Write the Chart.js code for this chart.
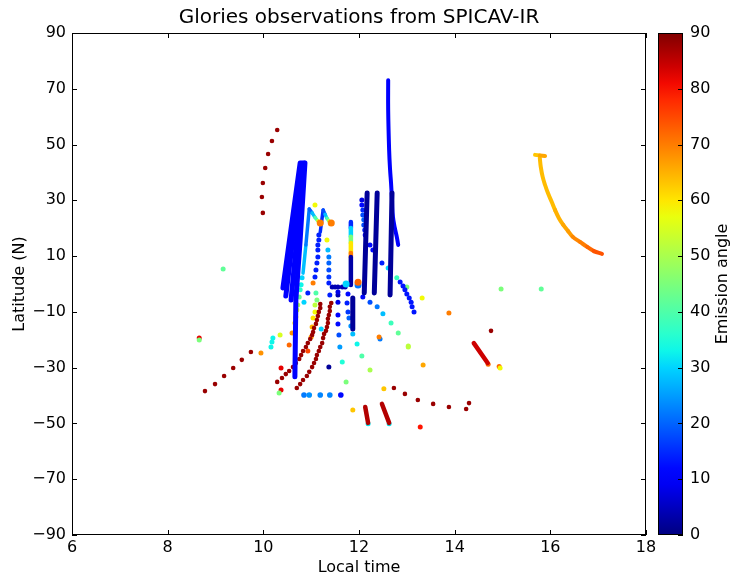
<!DOCTYPE html>
<html>
<head>
<meta charset="utf-8">
<script src="https://cdn.jsdelivr.net/npm/chart.js@4"></script>
<style>
  html, body { margin: 0; padding: 0; background: #fff; }
  #wrap { position: relative; width: 731px; height: 578px; }
  #main { position: absolute; left: 0; top: 0; }
  #cbar { position: absolute; left: 640px; top: 0; }
</style>
</head>
<body>
<div id="wrap">
  <canvas id="main" width="731" height="578"></canvas>
  <canvas id="cbar" width="91" height="578"></canvas>
</div>
<script>
// points are [local time, latitude, emission angle]

// continuous tracks
const fanTrack1 = [[10.41, -1.4, 11], [10.77, 43.4, 11]];
const fanTrack2 = [[10.47, -4.3, 11], [10.81, 43.4, 11]];
const fanTrack3 = [[10.58, -5.7, 11], [10.85, 43.4, 11]];
const fanTrack4 = [[10.66, -33.3, 11], [10.68, -5.7, 11], [10.77, 15.8, 11], [10.87, 43.4, 11]];
const peak1Track = [[10.83, 3.9, 28], [10.89, 14.0, 22], [10.96, 26.9, 20], [11.02, 25.5, 28], [11.08, 23.9, 40], [11.14, 22.6, 55], [11.19, 21.9, 68]];
const peak2Track = [[11.19, 18.6, 15], [11.25, 26.5, 18], [11.29, 25.0, 28], [11.33, 23.6, 40], [11.37, 22.6, 55], [11.42, 21.9, 68]];
const gradTrack = [[11.83, 22.2, 15], [11.83, 20.1, 30], [11.83, 16.9, 45], [11.83, 14.7, 60], [11.83, 11.1, 70], [11.83, 9.7, 3], [11.83, -0.4, 3]];
const navyTrack1 = [[12.17, 32.6, 2], [12.11, -3.2, 2]];
const navyTrack2 = [[12.38, 32.6, 2], [12.32, -3.2, 2]];
const navyTrack3 = [[12.69, 32.6, 2], [12.65, -3.9, 2]];
const navyTrack4 = [[11.87, -5.0, 2], [11.87, -16.1, 2]];
const blueTrack = [[12.61, 73.1, 11], [12.61, 62.4, 11], [12.63, 48.0, 11], [12.65, 40.9, 11], [12.67, 36.2, 11], [12.69, 30.1, 11], [12.71, 24.0, 11], [12.75, 20.0, 11], [12.79, 16.9, 11], [12.82, 14.0, 11]];
const redTrack1 = [[14.40, -21.2, 84], [14.69, -28.3, 84]];
const redTrack2 = [[12.13, -44.1, 86], [12.19, -49.8, 86]];
const redTrack3 = [[12.48, -43.0, 86], [12.63, -49.8, 86]];
const orangeTop = [[15.68, 46.3, 63], [15.78, 46.1, 66], [15.89, 45.9, 72]];
const orangeCurve = [[15.78, 45.2, 64], [15.80, 42.0, 64], [15.84, 38.4, 64], [15.89, 35.5, 64], [15.95, 32.6, 64], [16.03, 29.4, 64],
  [16.10, 26.5, 65], [16.18, 23.6, 65], [16.27, 21.2, 66], [16.37, 19.0, 67], [16.47, 16.9, 69], [16.62, 15.1, 70],
  [16.77, 13.3, 72], [16.91, 11.8, 74], [17.08, 10.8, 75]];

// dotted tracks
const redArcTop = [[10.29, 55.2, 88], [10.18, 51.3, 88], [10.10, 46.6, 88], [10.04, 41.6, 88], [9.99, 36.2, 88], [9.97, 31.2, 88], [9.99, 25.5, 88]];
const redArcLeft = [[8.78, -38.4, 88], [8.99, -35.9, 88], [9.18, -33.0, 88], [9.37, -30.1, 88], [9.55, -27.2, 88], [9.74, -24.4, 88]];
const redArc1 = [[10.29, -35.1, 88], [10.39, -33.7, 88], [10.47, -32.3, 88], [10.54, -31.2, 88], [10.62, -29.8, 88], [10.68, -28.3, 88], [10.75, -26.9, 88], [10.79, -25.5, 88], [10.83, -24.0, 88], [10.89, -22.6, 88], [10.93, -21.2, 88], [10.98, -19.7, 88], [11.02, -18.3, 88], [11.04, -17.2, 88], [11.06, -15.8, 88], [11.10, -14.3, 88], [11.12, -12.9, 88], [11.14, -11.5, 88], [11.16, -10.0, 88], [11.19, -8.6, 88], [11.19, -7.2, 88]];
const redArc2 = [[10.70, -37.3, 88], [10.77, -35.9, 88], [10.83, -34.4, 88], [10.91, -33.0, 88], [10.96, -31.5, 88], [11.02, -29.8, 88], [11.06, -28.3, 88], [11.10, -26.9, 88], [11.12, -25.5, 88], [11.16, -24.0, 88], [11.19, -22.6, 88], [11.23, -21.2, 88], [11.25, -19.4, 88], [11.27, -17.9, 88], [11.31, -16.8, 88], [11.33, -15.4, 88], [11.35, -14.0, 88], [11.35, -12.5, 88], [11.37, -11.1, 88], [11.39, -9.7, 88], [11.39, -8.2, 88], [11.42, -6.8, 88]];
const redArcRight = [[12.73, -37.3, 88], [12.96, -39.4, 88], [13.23, -41.6, 88], [13.55, -43.0, 88], [13.88, -44.1, 88], [14.24, -44.8, 88], [14.30, -42.7, 88], [14.76, -16.8, 88]];
const blueDotsRight = [[12.86, 0.7, 13], [12.92, -0.7, 13], [12.96, -2.1, 13], [13.00, -3.6, 13], [13.05, -5.0, 13], [13.09, -6.5, 13], [13.11, -8.2, 13], [13.15, -10.0, 13]];
const cyanDiag = [[12.61, 5.7, 30], [12.79, 2.2, 38], [13.00, -1.1, 45], [13.32, -5.0, 58], [13.88, -10.4, 70]];
const dotsB = [[12.08, -4.7, 12], [12.23, -6.5, 18], [12.38, -8.2, 22], [12.50, -10.7, 28], [12.67, -14.0, 38], [12.82, -17.6, 42], [13.03, -22.6, 52], [13.34, -29.0, 66]];
const dotsC = [[11.77, -3.6, 12], [11.75, -6.8, 14], [11.77, -10.0, 16], [11.79, -12.2, 20], [11.83, -15.1, 24], [11.87, -17.9, 28], [11.96, -21.5, 33], [12.06, -25.8, 40], [12.23, -30.8, 50]];
const dotsD = [[11.56, -2.9, 8], [11.56, -6.5, 8], [11.56, -11.1, 10], [11.56, -14.3, 12], [11.58, -18.3, 18], [11.60, -22.6, 25], [11.65, -28.0, 35], [11.73, -35.1, 45]];
const rowDots = [[11.44, -1.1, 4], [11.50, -1.1, 4], [11.56, -1.1, 4], [11.65, -1.1, 4], [11.71, -1.1, 4], [11.56, -3.9, 4]];
const peak1Dots = [[10.81, 2.2, 30], [10.79, -0.3, 33], [10.77, -2.1, 36], [10.75, -4.7, 42], [10.72, -7.5, 50], [10.70, -9.3, 55], [10.68, -11.8, 58], [10.66, -14.0, 62], [10.60, -17.6, 68], [10.54, -21.9, 72]];
const peak2Dots = [[11.16, 17.6, 14], [11.16, 15.8, 14], [11.14, 14.0, 14], [11.14, 12.2, 14], [11.14, 9.7, 14], [11.12, 7.5, 14], [11.10, 5.0, 14], [11.08, 2.5, 14]];
const colourDots = [[11.04, 0.4, 70], [11.10, -3.2, 40], [11.12, -5.7, 45], [11.08, -7.5, 52], [11.08, -10.0, 58], [11.04, -12.2, 60], [11.02, -15.4, 65], [11.00, -19.0, 68], [10.93, -24.0, 75]];
const col329 = [[11.33, 15.8, 58], [11.35, 12.2, 28], [11.37, 9.7, 22], [11.37, 7.5, 20], [11.37, 5.0, 18], [11.37, 2.5, 16], [11.37, 0.4, 14], [11.39, -3.9, 14]];
const col362 = [[12.06, 30.1, 8], [12.06, 28.3, 12], [12.08, 26.5, 15], [12.08, 24.7, 18], [12.10, 23.0, 20], [12.10, 21.2, 18], [12.12, 19.4, 15], [12.13, 17.6, 12], [12.23, 14.0, 12], [12.29, 12.2, 12], [12.48, 7.5, 14]];
const row40 = [[10.85, -39.8, 22], [10.96, -39.8, 24], [11.19, -39.8, 23], [11.39, -39.8, 23], [11.62, -39.8, 12]];
const isolated = [[9.16, 5.4, 42], [8.66, -19.4, 82], [8.66, -20.1, 45], [9.95, -24.7, 68], [10.35, -18.3, 55],
  [10.20, -19.4, 33], [10.18, -20.8, 33], [10.16, -22.6, 33], [10.37, -30.1, 82], [10.37, -38.0, 82], [10.33, -39.1, 45],
  [14.97, -1.8, 45], [15.81, -1.8, 42], [14.70, -28.8, 72], [14.93, -29.6, 72], [14.95, -30.1, 58], [13.28, -51.3, 80],
  [12.52, -37.6, 63], [11.87, -45.2, 63], [11.37, -29.8, 2], [11.08, 28.3, 58], [12.44, -19.7, 22], [12.42, -19.0, 70],
  [11.21, -16.1, 30], [12.19, -50.1, 32], [12.63, -50.1, 32], [10.93, -3.2, 14], [10.85, -6.5, 30], [13.03, -22.2, 52]];
const bigMarks = [[11.19, 21.9, 70], [11.42, 21.9, 70], [11.73, 0.0, 30], [11.98, -0.4, 22], [11.98, 0.6, 72]];

const xTicks = [6, 8, 10, 12, 14, 16, 18];
const yTicks = [-90, -70, -50, -30, -10, 10, 30, 50, 70, 90];
const cbTicks = [0, 10, 20, 30, 40, 50, 60, 70, 80, 90];

const FONT = "'DejaVu Sans', sans-serif";

// matplotlib "jet" colour map, 0..90 degrees
function jet(a) {
  const v = Math.min(1, Math.max(0, a / 90));
  const interp = pts => {
    for (let i = 1; i < pts.length; i++) {
      if (v <= pts[i][0]) {
        const [x0, y0] = pts[i - 1], [x1, y1] = pts[i];
        return y0 + (y1 - y0) * (v - x0) / (x1 - x0);
      }
    }
    return pts[pts.length - 1][1];
  };
  const r = interp([[0, 0], [0.35, 0], [0.66, 1], [0.89, 1], [1, 0.5]]);
  const g = interp([[0, 0], [0.125, 0], [0.375, 1], [0.64, 1], [0.91, 0], [1, 0]]);
  const b = interp([[0, 0.5], [0.11, 1], [0.34, 1], [0.65, 0], [1, 0]]);
  return `rgb(${Math.round(r * 255)},${Math.round(g * 255)},${Math.round(b * 255)})`;
}

function trackSet(pts, width, tension = 0) {
  return {
    data: pts.map(p => ({ x: p[0], y: p[1] })),
    showLine: true,
    borderWidth: width,
    borderColor: jet(pts[0][2]),
    segment: { borderColor: c => jet(pts[c.p0DataIndex][2]) },
    borderCapStyle: "round",
    borderJoinStyle: "round",
    pointRadius: 0,
    tension: tension,
    fill: false,
    order: 1,
  };
}

function dotSet(pts, radius) {
  return {
    data: pts.map(p => ({ x: p[0], y: p[1] })),
    showLine: false,
    pointRadius: radius,
    pointBorderWidth: 0,
    pointBackgroundColor: pts.map(p => jet(p[2])),
    order: 2,
  };
}

const datasets = [
  dotSet(redArcTop, 2.3), dotSet(redArcLeft, 2.3), dotSet(redArc1, 2.3), dotSet(redArc2, 2.3), dotSet(redArcRight, 2.3),
  dotSet(blueDotsRight, 2.5), dotSet(cyanDiag, 2.5), dotSet(dotsB, 2.5), dotSet(dotsC, 2.5), dotSet(dotsD, 2.5),
  dotSet(rowDots, 2.5), dotSet(peak1Dots, 2.5), dotSet(peak2Dots, 2.5), dotSet(colourDots, 2.5), dotSet(col329, 2.5),
  dotSet(col362, 2.5), dotSet(row40, 2.8), dotSet(isolated, 2.5),
  trackSet(fanTrack1, 5), trackSet(fanTrack2, 5), trackSet(fanTrack3, 5), trackSet(fanTrack4, 5),
  trackSet(peak1Track, 3.5), trackSet(peak2Track, 3.5), trackSet(gradTrack, 4.5),
  trackSet(navyTrack1, 5), trackSet(navyTrack2, 5), trackSet(navyTrack3, 5), trackSet(navyTrack4, 5),
  trackSet(blueTrack, 4, 0.4), trackSet(redTrack1, 4.5), trackSet(redTrack2, 4.5), trackSet(redTrack3, 4.5),
  trackSet(orangeTop, 4), trackSet(orangeCurve, 4, 0.4),
];
const big = dotSet(bigMarks, 3.5);
big.order = 0;
datasets.push(big);

// frame, inward ticks and title in the matplotlib way
const axesDecor = {
  id: "axesDecor",
  afterDraw(chart) {
    const { ctx, chartArea: a, scales } = chart;
    ctx.save();
    ctx.strokeStyle = "#000";
    ctx.lineWidth = 1;
    ctx.strokeRect(Math.round(a.left) + 0.5, Math.round(a.top) + 0.5, Math.round(a.width) - 1, Math.round(a.height) - 1);
    ctx.beginPath();
    xTicks.forEach(v => {
      const px = Math.round(scales.x.getPixelForValue(v)) + 0.5;
      ctx.moveTo(px, a.bottom); ctx.lineTo(px, a.bottom - 5);
      ctx.moveTo(px, a.top); ctx.lineTo(px, a.top + 5);
    });
    yTicks.forEach(v => {
      const py = Math.round(scales.y.getPixelForValue(v)) + 0.5;
      ctx.moveTo(a.left, py); ctx.lineTo(a.left + 5, py);
      ctx.moveTo(a.right, py); ctx.lineTo(a.right - 5, py);
    });
    ctx.stroke();
    ctx.fillStyle = "#000";
    ctx.font = "20px " + FONT;
    ctx.textAlign = "center";
    ctx.textBaseline = "middle";
    ctx.fillText("Glories observations from SPICAV-IR", (a.left + a.right) / 2, a.top - 15);
    ctx.restore();
  },
};

new Chart(document.getElementById("main").getContext("2d"), {
  type: "line",
  data: { datasets: datasets },
  options: {
    responsive: false,
    animation: false,
    layout: { padding: { left: 0, top: 33, right: 85, bottom: 0 } },
    plugins: { legend: { display: false }, tooltip: { enabled: false } },
    scales: {
      x: {
        type: "linear",
        min: 6,
        max: 18,
        afterBuildTicks: s => { s.ticks = xTicks.map(v => ({ value: v })); },
        ticks: { color: "#000", font: { family: FONT, size: 16 }, padding: 3, maxRotation: 0 },
        grid: { display: false, drawTicks: false },
        border: { display: false },
        title: { display: true, text: "Local time", color: "#000", font: { family: FONT, size: 16 }, padding: { top: 0, bottom: 1 } },
        afterFit: s => { s.height = 43; },
      },
      y: {
        type: "linear",
        min: -90,
        max: 90,
        afterBuildTicks: s => { s.ticks = yTicks.map(v => ({ value: v })); },
        ticks: {
          color: "#000",
          font: { family: FONT, size: 16 },
          padding: 6,
          callback: v => (v < 0 ? "\u2212" + Math.abs(v) : String(v)),
        },
        grid: { display: false, drawTicks: false },
        border: { display: false },
        title: { display: true, text: "Latitude (N)", color: "#000", font: { family: FONT, size: 16 }, padding: { top: 10, bottom: 0 } },
        afterFit: s => { s.width = 72; },
      },
    },
  },
  plugins: [axesDecor],
});

// colour bar
const cbDecor = {
  id: "cbDecor",
  afterDraw(chart) {
    const { ctx, chartArea: a, scales } = chart;
    ctx.save();
    ctx.strokeStyle = "#000";
    ctx.lineWidth = 1;
    ctx.strokeRect(Math.round(a.left) + 0.5, Math.round(a.top) + 0.5, Math.round(a.width) - 1, Math.round(a.height) - 1);
    ctx.beginPath();
    cbTicks.forEach(v => {
      const py = Math.round(scales.y.getPixelForValue(v)) + 0.5;
      ctx.moveTo(a.right, py); ctx.lineTo(a.right - 5, py);
    });
    ctx.stroke();
    ctx.fillStyle = "#000";
    ctx.font = "16px " + FONT;
    ctx.textAlign = "center";
    ctx.textBaseline = "middle";
    ctx.translate(a.right + 40, (a.top + a.bottom) / 2);
    ctx.rotate(-Math.PI / 2);
    ctx.fillText("Emission angle", 0, 0);
    ctx.restore();
  },
};

new Chart(document.getElementById("cbar").getContext("2d"), {
  type: "bar",
  data: {
    labels: ["angle"],
    datasets: [{
      data: [[0, 90]],
      barPercentage: 1,
      categoryPercentage: 1,
      borderWidth: 0,
      backgroundColor: c => {
        const a = c.chart.chartArea;
        if (!a) return jet(45);
        const grad = c.chart.ctx.createLinearGradient(0, a.bottom, 0, a.top);
        for (let i = 0; i <= 90; i += 3) grad.addColorStop(i / 90, jet(i));
        return grad;
      },
    }],
  },
  options: {
    responsive: false,
    animation: false,
    layout: { padding: { left: 18, top: 33, right: 0, bottom: 43 } },
    plugins: { legend: { display: false }, tooltip: { enabled: false } },
    scales: {
      x: { display: false },
      y: {
        position: "right",
        min: 0,
        max: 90,
        afterBuildTicks: s => { s.ticks = cbTicks.map(v => ({ value: v })); },
        ticks: { color: "#000", font: { family: FONT, size: 16 }, padding: 7 },
        grid: { display: false, drawTicks: false },
        border: { display: false },
        afterFit: s => { s.width = 48; },
      },
    },
  },
  plugins: [cbDecor],
});
</script>
</body>
</html>
